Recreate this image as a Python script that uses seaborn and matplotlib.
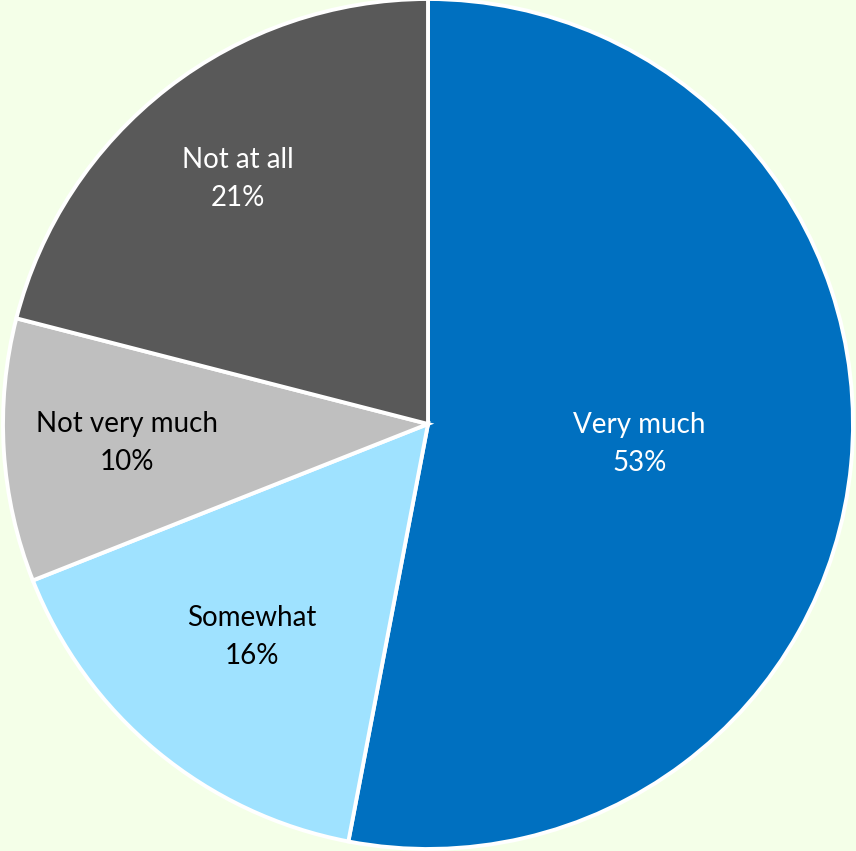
import numpy as np
import matplotlib
matplotlib.use("Agg")
import matplotlib.pyplot as plt
import seaborn as sns

categories = ["Very much", "Somewhat", "Not very much", "Not at all"]
shares = [53, 16, 10, 21]
pct_labels = ["53%", "16%", "10%", "21%"]

colors = ["#0070C0", "#9FE2FF", "#BFBFBF", "#595959"]
text_colors = ["white", "black", "black", "white"]
label_radius = [0.50, 0.65, 0.71, 0.73]

sns.set_theme(style="white")
plt.rcParams["font.family"] = ["Lato", "DejaVu Sans"]

bg = "#F4FFE8"
fig = plt.figure(figsize=(8.56, 8.51), dpi=100, facecolor=bg)
W, H = 856, 851
cx, cy, r = 428, 424, 425
ax = fig.add_axes([(cx - r) / W, (H - cy - r) / H, 2 * r / W, 2 * r / H])
ax.set_facecolor(bg)

wedges, _ = ax.pie(shares, colors=colors, startangle=90, counterclock=False,
                   radius=1.0,
                   wedgeprops=dict(edgecolor="white", linewidth=2.8))

# labels sit inside each slice, "name" over "percent"
for w, cat, pct, tc, lr in zip(wedges, categories, pct_labels, text_colors, label_radius):
    mid = np.deg2rad((w.theta1 + w.theta2) / 2)
    x, y = lr * np.cos(mid), lr * np.sin(mid)
    ax.text(x, y, f"{cat}\n{pct}", ha="center", va="center", color=tc,
            fontsize=20, linespacing=1.55)

ax.set_xlim(-1, 1)
ax.set_ylim(-1, 1)
ax.set_aspect("equal")
ax.axis("off")

fig.savefig("out.png", dpi=100, facecolor=bg)
